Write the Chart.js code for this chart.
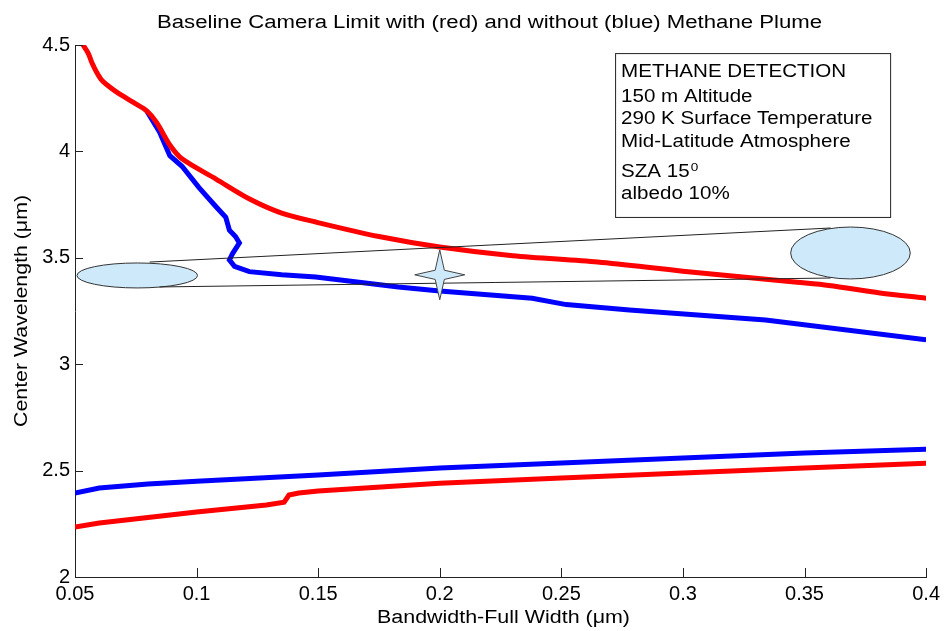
<!DOCTYPE html>
<html>
<head>
<meta charset="utf-8">
<title>Baseline Camera Limit</title>
<script src="https://cdn.jsdelivr.net/npm/chart.js@4.4.1/dist/chart.umd.min.js"></script>
<style>
  html, body { margin: 0; padding: 0; background: #fff; }
</style>
</head>
<body>
<canvas id="plot" width="945" height="631"></canvas>
<script>
// curves: bandwidth (um) -> centre wavelength (um)
let redUpperX = [0.0533, 0.0555, 0.057, 0.059, 0.061, 0.064, 0.067, 0.074, 0.0795, 0.0836, 0.089, 0.094, 0.108, 0.122, 0.135, 0.149, 0.175, 0.2, 0.23, 0.265, 0.3, 0.347, 0.36, 0.381, 0.4]
let redUpperY = [4.5, 4.46, 4.415, 4.37, 4.335, 4.305, 4.28, 4.23, 4.19, 4.135, 4.03, 3.965, 3.87, 3.775, 3.71, 3.668, 3.6, 3.551, 3.51, 3.48, 3.437, 3.385, 3.37, 3.335, 3.31]
let blueUpperX = [0.0795, 0.0848, 0.089, 0.094, 0.101, 0.108, 0.112, 0.1135, 0.116, 0.1176, 0.1148, 0.1135, 0.1156, 0.1217, 0.135, 0.149, 0.183, 0.2, 0.238, 0.252, 0.278, 0.334, 0.4]
let blueUpperY = [4.19, 4.09, 3.98, 3.93, 3.83, 3.74, 3.69, 3.63, 3.6, 3.57, 3.52, 3.49, 3.46, 3.435, 3.42, 3.41, 3.363, 3.344, 3.31, 3.28, 3.255, 3.208, 3.115]
let blueLowerX = [0.05, 0.06, 0.08, 0.1, 0.15, 0.2, 0.25, 0.3, 0.35, 0.4]
let blueLowerY = [2.395, 2.418, 2.437, 2.45, 2.479, 2.512, 2.536, 2.559, 2.583, 2.6]
let redLowerX = [0.05, 0.06, 0.08, 0.1, 0.1287, 0.136, 0.138, 0.142, 0.15, 0.2, 0.25, 0.3, 0.35, 0.4]
let redLowerY = [2.235, 2.254, 2.28, 2.305, 2.338, 2.352, 2.385, 2.395, 2.404, 2.44, 2.465, 2.489, 2.512, 2.535]

let xTicks = [0.05, 0.1, 0.15, 0.2, 0.25, 0.3, 0.35, 0.4]
let yTicks = [2, 2.5, 3, 3.5, 4, 4.5]

// sketch marks on top of the plot (data units)
let ellipseX = [0.0756, 0.3689]
let ellipseY = [3.417, 3.5226]
let ellipseRx = [0.0248, 0.0246]
let ellipseRy = [0.0587, 0.122]
let bandTop = [0.0807, 3.480, 0.3607, 3.640]
let bandBottom = [0.0848, 3.363, 0.3607, 3.405]
let starAt = [0.2, 3.42]
let noteBox = [0.2721, 4.462, 0.3852, 3.692]
let noteLines = ["METHANE DETECTION", "150 m Altitude", "290 K Surface Temperature", "Mid-Latitude Atmosphere", "SZA 15", "albedo 10%"]

const FONT = '"Liberation Sans", Arial, Helvetica, sans-serif'

let pts = (xs, ys) => xs.map((x, i) => ({ x: x, y: ys[i] }))

// text in the picture is a bit wider than Arial, so stretch it sideways
let wideText = (ctx, text, x, y, size, sx, align) => {
    ctx.save()
    ctx.font = size + 'px ' + FONT
    ctx.textAlign = align || 'left'
    ctx.textBaseline = 'alphabetic'
    ctx.translate(x, y)
    ctx.scale(sx, 1)
    ctx.fillText(text, 0, 0)
    ctx.restore()
}
let fitScale = (ctx, text, size, width) => {
    ctx.save()
    ctx.font = size + 'px ' + FONT
    let w = ctx.measureText(text).width
    ctx.restore()
    return width / w
}

let sketch = {
    id: 'sketch',
    afterDatasetsDraw(chart) {
        const ctx = chart.ctx
        const xs = chart.scales.x, ys = chart.scales.y
        const px = v => xs.getPixelForValue(v), py = v => ys.getPixelForValue(v)
        const area = chart.chartArea

        ctx.save()
        // ellipses
        for (let i = 0; i < ellipseX.length; i++) {
            ctx.beginPath()
            ctx.ellipse(px(ellipseX[i]), py(ellipseY[i]),
                Math.abs(px(ellipseX[i] + ellipseRx[i]) - px(ellipseX[i])),
                Math.abs(py(ellipseY[i] + ellipseRy[i]) - py(ellipseY[i])), 0, 0, Math.PI * 2)
            ctx.fillStyle = '#cde9fa'
            ctx.fill()
            ctx.lineWidth = 1
            ctx.strokeStyle = '#333'
            ctx.stroke()
        }
        // band edges
        ctx.strokeStyle = '#222'
        ctx.lineWidth = 1
        for (const l of [bandTop, bandBottom]) {
            ctx.beginPath()
            ctx.moveTo(px(l[0]), py(l[1]))
            ctx.lineTo(px(l[2]), py(l[3]))
            ctx.stroke()
        }
        // four point star
        const cx = px(starAt[0]), cy = py(starAt[1])
        const arm = 25, waist = 6.5
        ctx.beginPath()
        for (let k = 0; k < 8; k++) {
            const a = k * Math.PI / 4 - Math.PI / 2
            const r = k % 2 == 0 ? arm : waist
            const x = cx + Math.cos(a) * r, y = cy + Math.sin(a) * r
            if (k == 0) ctx.moveTo(x, y)
            else ctx.lineTo(x, y)
        }
        ctx.closePath()
        ctx.fillStyle = '#cde9fa'
        ctx.fill()
        ctx.strokeStyle = '#444'
        ctx.stroke()

        // note box
        const bx = px(noteBox[0]), by = py(noteBox[1])
        const bw = px(noteBox[2]) - bx, bh = py(noteBox[3]) - by
        ctx.fillStyle = '#fff'
        ctx.fillRect(bx, by, bw, bh)
        ctx.strokeStyle = '#222'
        ctx.strokeRect(bx + 0.5, by + 0.5, bw, bh)
        ctx.fillStyle = '#000'
        const nsize = 17.5
        const nsx = fitScale(ctx, noteLines[0], nsize, 225)
        const offs = [24, 49, 71, 94, 124, 146]
        noteLines.forEach((t, i) => wideText(ctx, t, bx + 6, by + offs[i], nsize, nsx))
        ctx.font = nsize + 'px ' + FONT
        const szaW = ctx.measureText(noteLines[4]).width * nsx
        wideText(ctx, '0', bx + 6 + szaW + 1, by + 118, 11.5, nsx)

        // inward tick marks
        ctx.strokeStyle = '#222'
        ctx.lineWidth = 1
        ctx.beginPath()
        for (const v of xTicks) {
            const x = Math.round(px(v)) + 0.5
            ctx.moveTo(x, area.bottom)
            ctx.lineTo(x, area.bottom - 9)
        }
        for (const v of yTicks) {
            const y = Math.round(py(v)) + 0.5
            ctx.moveTo(area.left, y)
            ctx.lineTo(area.left + 8, y)
        }
        ctx.stroke()

        // titles
        ctx.fillStyle = '#000'
        const title = 'Baseline Camera Limit with (red) and without (blue) Methane Plume'
        wideText(ctx, title, 489.5, 28, 18, fitScale(ctx, title, 18, 665), 'center')
        const xt = 'Bandwidth-Full Width (\u03bcm)'
        wideText(ctx, xt, 503.5, 623, 18, fitScale(ctx, xt, 18, 253), 'center')
        const yt = 'Center Wavelength (\u03bcm)'
        const ysx = fitScale(ctx, yt, 18, 232)
        ctx.save()
        ctx.translate(27, (area.top + area.bottom) / 2)
        ctx.rotate(-Math.PI / 2)
        wideText(ctx, yt, 0, 0, 18, ysx, 'center')
        ctx.restore()
        ctx.restore()
    }
}

let line = (data, color, tension) => ({
    data: data,
    showLine: true,
    borderColor: color,
    backgroundColor: color,
    borderWidth: 5,
    pointRadius: 0,
    tension: tension || 0,
    fill: false
})

new Chart(document.getElementById('plot'), {
    type: 'scatter',
    data: {
        datasets: [
            line(pts(redUpperX, redUpperY), '#ff0000', 0.3),
            line(pts(redLowerX, redLowerY), '#ff0000'),
            line(pts(blueUpperX, blueUpperY), '#0000ff'),
            line(pts(blueLowerX, blueLowerY), '#0000ff')
        ]
    },
    options: {
        responsive: false,
        animation: false,
        layout: { padding: { left: 0, right: 16, top: 45, bottom: 0 } },
        plugins: {
            legend: { display: false },
            tooltip: { enabled: false },
            title: { display: false }
        },
        scales: {
            x: {
                type: 'linear',
                min: 0.05,
                max: 0.4,
                afterBuildTicks: s => { s.ticks = xTicks.map(v => ({ value: v })) },
                afterFit: s => { s.height = 54 },
                grid: { display: false, drawTicks: false },
                border: { display: true, color: '#222', width: 1 },
                ticks: {
                    autoSkip: false,
                    maxRotation: 0,
                    padding: 5,
                    color: '#000',
                    font: { family: FONT, size: 20 },
                    callback: v => String(v)
                }
            },
            y: {
                type: 'linear',
                min: 2,
                max: 4.5,
                afterBuildTicks: s => { s.ticks = yTicks.map(v => ({ value: v })) },
                afterFit: s => { s.width = 75 },
                grid: { display: false, drawTicks: false },
                border: { display: true, color: '#222', width: 1 },
                ticks: {
                    autoSkip: false,
                    padding: 5,
                    color: '#000',
                    font: { family: FONT, size: 20 },
                    callback: v => String(v)
                }
            }
        }
    },
    plugins: [sketch]
})
</script>
</body>
</html>
